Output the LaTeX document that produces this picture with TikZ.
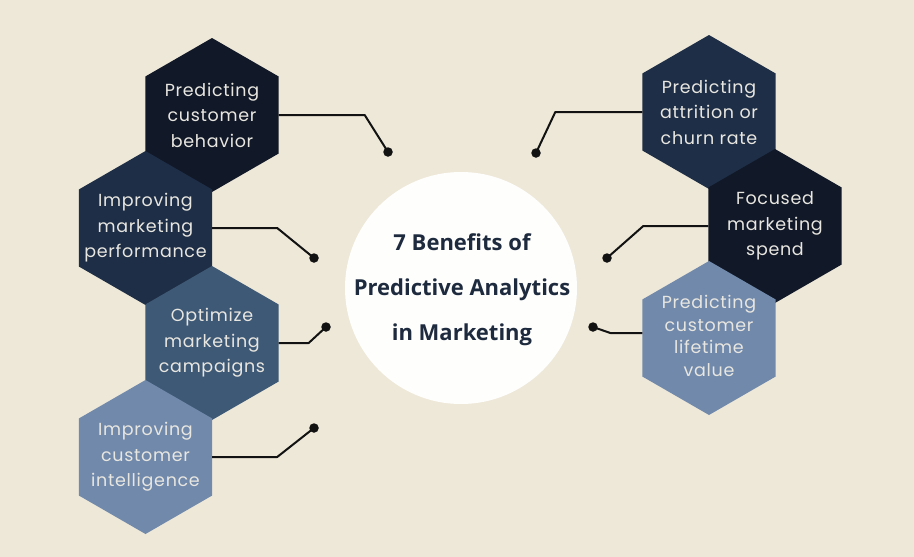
\documentclass[tikz,border=0pt]{standalone}
\usepackage{fontspec}
\usetikzlibrary{shapes.geometric}
\newfontfamily\hexfont{Poppins}[LetterSpace=4]
\newfontfamily\titlefont{Open Sans}
\definecolor{bgc}{HTML}{EEE8D8}
\definecolor{hA}{HTML}{111827}
\definecolor{hB}{HTML}{1E2E46}
\definecolor{hC}{HTML}{3E5976}
\definecolor{hD}{HTML}{7189AB}
\definecolor{htxt}{HTML}{E8E6E0}
\definecolor{ttxt}{HTML}{1E2A3E}
\definecolor{linec}{HTML}{121212}
\tikzset{
  hexa/.style={regular polygon, regular polygon sides=6, shape border rotate=30,
    minimum size=154pt, inner sep=0pt, outer sep=0pt, draw=none},
  hextext/.style={align=center, text=htxt, font=\hexfont\fontsize{17.5}{25.5}\selectfont},
  dotn/.style={circle, fill=linec, minimum size=9.5pt, inner sep=0pt},
  conn/.style={draw=linec, line width=2pt, line join=round}
}
\begin{document}
\begin{tikzpicture}[x=1pt,y=-1pt]
\fill[bgc] (0,0) rectangle (914,557);
\useasboundingbox (0,0) rectangle (914,557);

% central circle
\node[circle, fill=white!95!bgc, minimum size=232pt, inner sep=0pt] (c) at (461,288) {};
\node[align=center, text=ttxt, font=\titlefont\bfseries\fontsize{22}{45}\selectfont] (ct) at (462,290)
  {7 Benefits of\\Predictive Analytics\\in Marketing};

% dots
\node[dotn] (d1) at (388,152) {};
\node[dotn] (d2) at (314,258) {};
\node[dotn] (d3) at (326,327) {};
\node[dotn] (d4) at (314,428) {};
\node[dotn] (d5) at (536,153) {};
\node[dotn] (d6) at (607,258) {};
\node[dotn] (d7) at (593,327) {};

% hexagons left
\node[hexa, fill=hA] (h1) at (212,115) {};
\node[hexa, fill=hB] (h2) at (145.5,228) {};
\node[hexa, fill=hC] (h3) at (212,343) {};
\node[hexa, fill=hD] (h4) at (145.5,457) {};
% hexagons right
\node[hexa, fill=hB] (h5) at (709,112) {};
\node[hexa, fill=hA] (h6) at (775,226) {};
\node[hexa, fill=hD] (h7) at (709,338) {};

% texts
\node[hextext] (t1) at (h1) {Predicting\\customer\\behavior};
\node[hextext] (t2) at (h2) {Improving\\marketing\\performance};
\node[hextext] (t3) at (h3) {Optimize\\marketing\\campaigns};
\node[hextext] (t4) at (h4) {Improving\\customer\\intelligence};
\node[hextext] (t5) at (h5) {Predicting\\attrition or\\churn rate};
\node[hextext] (t6) at (h6) {Focused\\marketing\\spend};
\node[hextext, font=\hexfont\fontsize{17.5}{22.5}\selectfont] (t7) at ([yshift=2]h7) {Predicting\\customer\\lifetime\\value};

% connectors
\draw[conn] (h1.0) -- ++(86,0) -- (d1.center);
\draw[conn] (h2.0) -- ++(65,0) -- (d2.center);
\draw[conn] (h3.0) -- ++(30,0) -- (d3.center);
\draw[conn] (h4.0) -- ++(65,0) -- (d4.center);
\draw[conn] (h5.180) -- ++(-87,0) -- (d5.center);
\draw[conn] (h6.180) -- ++(-65,0) -- (d6.center);
\draw[conn] ([yshift=5]h7.180) -- ++(-32,0) -- (d7.center);
\end{tikzpicture}
\end{document}
